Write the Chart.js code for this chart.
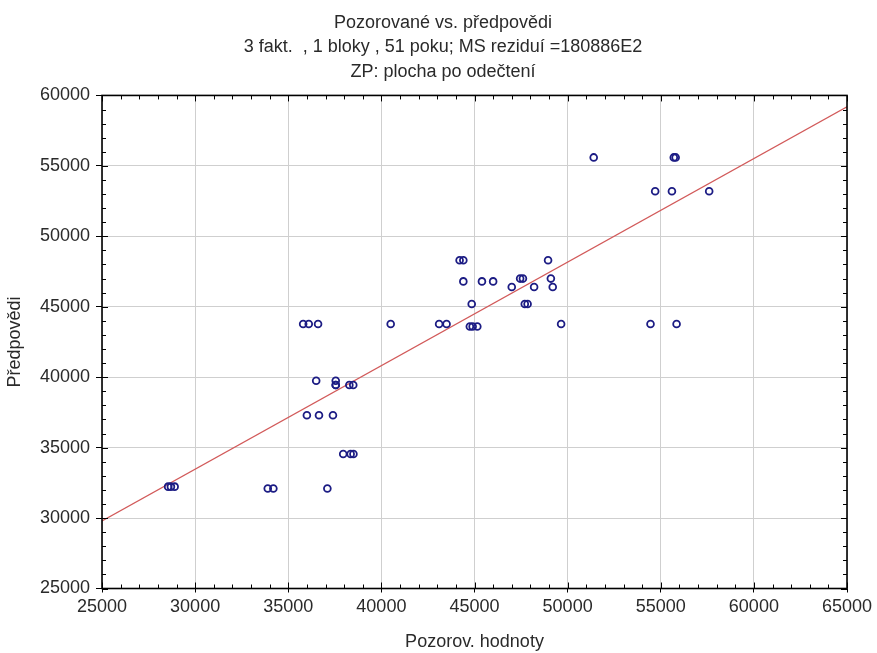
<!DOCTYPE html>
<html>
<head>
<meta charset="utf-8">
<script src="https://cdn.jsdelivr.net/npm/chart.js@4.4.0/dist/chart.umd.min.js"></script>
<style>
  html, body { margin: 0; padding: 0; background: #fff; }
  #wrap { width: 877px; height: 653px; position: relative; }
</style>
</head>
<body>
<div id="wrap"><canvas id="c" width="877" height="653"></canvas></div>
<script>
// ---- Data ----
const titleLines = [
  "Pozorované vs. předpovědi",
  "3 fakt.  , 1 bloky , 51 poku; MS reziduí =180886E2",
  "ZP: plocha po odečtení"
];
const xAxisTitle = "Pozorov. hodnoty";
const yAxisTitle = "Předpovědi";

// Observed values (x)
const observed = [
  51400, 55700, 55800,
  54700, 55600, 57600,
  44200, 44400, 48950,
  44400, 45400, 46000,
  47450, 47600, 49100,
  47000, 48200, 49200,
  44850, 47700, 47850,
  44750, 44900, 45150,
  35800, 36100, 36600,
  40500, 43100, 43500,
  49650, 54450, 55850,
  36500, 37550, 37550,
  37550, 38280, 38490,
  36000, 36650, 37400,
  37950, 38350, 38500,
  28550, 28700, 28900,
  33900, 34200, 37100
];
// Predicted values (y)
const predicted = [
  55600, 55600, 55600,
  53200, 53200, 53200,
  48300, 48300, 48300,
  46800, 46800, 46800,
  47000, 47000, 47000,
  46400, 46400, 46400,
  45200, 45200, 45200,
  43600, 43600, 43600,
  43780, 43780, 43780,
  43780, 43780, 43780,
  43780, 43780, 43780,
  39750, 39750, 39450,
  39450, 39450, 39450,
  37300, 37300, 37300,
  34550, 34550, 34550,
  32230, 32230, 32230,
  32100, 32100, 32100
];
// Fitted line endpoints
const fitX = [25000, 65000];
const fitY = [29800, 59200];

// Axis ranges / ticks
const xMin = 25000, xMax = 65000, xStep = 5000;
const yMin = 25000, yMax = 60000, yStep = 5000;
const minorStep = 1000;

const FONT = "'Liberation Sans', Arial, sans-serif";
const TEXT = '#2a2a2a';

const pts = observed.map((x, i) => ({ x: x, y: predicted[i] }));
const fit = fitX.map((x, i) => ({ x: x, y: fitY[i] }));

const framePlugin = {
  id: 'frame',
  afterDatasetsDraw(chart) {
    const { ctx, chartArea: a, scales } = chart;
    ctx.save();
    ctx.strokeStyle = '#000';
    ctx.lineWidth = 1;
    for (let v = xMin; v <= xMax; v += minorStep) {
      const px = Math.round(scales.x.getPixelForValue(v)) + 0.5;
      const len = (v % xStep === 0) ? 6 : 4;
      ctx.beginPath();
      ctx.moveTo(px, a.bottom); ctx.lineTo(px, a.bottom - len);
      ctx.moveTo(px, a.top); ctx.lineTo(px, a.top + len);
      ctx.stroke();
    }
    for (let v = yMin; v <= yMax; v += minorStep) {
      const py = Math.round(scales.y.getPixelForValue(v)) + 0.5;
      const len = (v % yStep === 0) ? 6 : 4;
      ctx.beginPath();
      ctx.moveTo(a.left, py); ctx.lineTo(a.left + len, py);
      ctx.moveTo(a.right, py); ctx.lineTo(a.right - len, py);
      ctx.stroke();
    }
    ctx.lineWidth = 1.6;
    ctx.strokeRect(a.left, a.top, a.right - a.left, a.bottom - a.top);
    ctx.restore();
  }
};

// Title text drawn centred on the page (the Chart.js title keeps the space)
const titleTextPlugin = {
  id: 'titleText',
  afterDraw(chart) {
    const ctx = chart.ctx;
    ctx.save();
    ctx.fillStyle = TEXT;
    ctx.font = "18px " + FONT;
    ctx.textAlign = 'center';
    ctx.textBaseline = 'middle';
    const cx = 443, y0 = 23, dy = 24.5;
    titleLines.forEach((t, i) => ctx.fillText(t, cx, y0 + i * dy));
    ctx.restore();
  }
};

const plain = (v) => String(v);

new Chart(document.getElementById('c'), {
  type: 'scatter',
  data: {
    datasets: [
      {
        label: 'fit',
        type: 'line',
        data: fit,
        borderColor: '#d25a5a',
        borderWidth: 1.3,
        pointRadius: 0,
        fill: false,
        order: 2
      },
      {
        label: 'points',
        data: pts,
        pointStyle: 'circle',
        pointRadius: 3.4,
        pointBorderWidth: 1.8,
        pointBorderColor: '#1c1c84',
        pointBackgroundColor: 'rgba(255,255,255,0)',
        order: 1
      }
    ]
  },
  options: {
    responsive: false,
    animation: false,
    devicePixelRatio: 1,
    layout: { padding: { left: 0, right: 30, top: 0, bottom: 0 } },
    plugins: {
      legend: { display: false },
      tooltip: { enabled: false },
      title: {
        display: true,
        text: titleLines,
        color: 'rgba(0,0,0,0)',
        font: { family: FONT, size: 18, weight: 'normal', lineHeight: 1.36 },
        padding: { top: 10.75, bottom: 11.25 }
      }
    },
    scales: {
      x: {
        type: 'linear',
        min: xMin, max: xMax,
        afterFit(s) { s.height = 64.5; },
        ticks: { stepSize: xStep, callback: plain, color: TEXT, font: { family: FONT, size: 18 }, padding: 4, maxRotation: 0, autoSkip: false },
        grid: { color: '#cfcfcf', lineWidth: 1, drawTicks: true, tickLength: 4, tickColor: '#000' },
        border: { display: false },
        title: { display: true, text: xAxisTitle, color: TEXT, font: { family: FONT, size: 18 }, padding: { top: 6, bottom: 0 } }
      },
      y: {
        type: 'linear',
        min: yMin, max: yMax,
        afterFit(s) { s.width = 102; },
        ticks: { stepSize: yStep, callback: plain, color: TEXT, font: { family: FONT, size: 18 }, padding: 6 },
        grid: { color: '#cfcfcf', lineWidth: 1, drawTicks: true, tickLength: 6, tickColor: '#000' },
        border: { display: false },
        title: { display: true, text: yAxisTitle, color: TEXT, font: { family: FONT, size: 18 }, padding: { top: 4, bottom: 0 } }
      }
    }
  },
  plugins: [framePlugin, titleTextPlugin]
});
</script>
</body>
</html>
